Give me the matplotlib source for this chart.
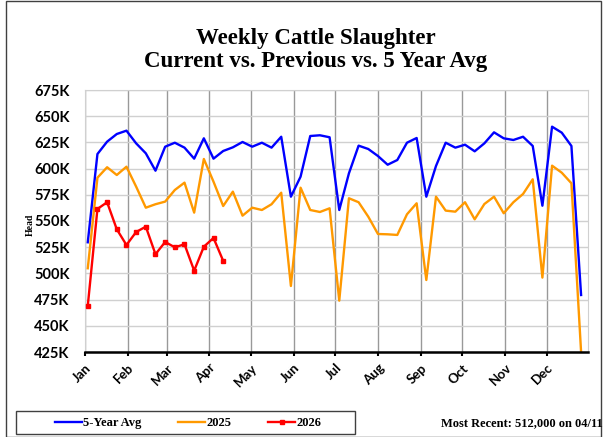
import numpy as np
import pandas as pd
import matplotlib
matplotlib.use("Agg")
import matplotlib.pyplot as plt
import matplotlib.dates as mdates
from matplotlib.lines import Line2D
from matplotlib.patches import Rectangle
from matplotlib.ticker import FuncFormatter

# weekly slaughter, thousand head
avg5 = [529.7, 613.9, 625.7, 633.0, 636.2, 624.1, 614.6, 598.0, 620.9, 624.7,
        620.0, 609.5, 628.9, 609.5, 616.8, 620.3, 625.4, 620.9, 624.7, 620.0,
        630.4, 573.2, 592.3, 631.1, 631.8, 629.9, 560.5, 595.5, 621.9, 618.7,
        612.0, 603.7, 608.2, 624.7, 629.2, 573.2, 602.5, 624.7, 620.0, 622.8,
        616.5, 624.1, 634.6, 628.9, 627.3, 630.4, 621.6, 564.6, 640.0, 634.3,
        621.6, 479.4]
y2025 = [504.9, 591.3, 601.3, 593.9, 601.8, 582.8, 562.7, 566.0, 568.5, 579.6,
         586.6, 558.0, 609.2, 587.5, 564.3, 578.0, 555.1, 562.7, 560.5, 566.0,
         577.0, 488.0, 581.8, 560.5, 558.6, 562.1, 474.0, 571.7, 567.9, 554.1,
         537.6, 537.3, 536.7, 556.4, 566.9, 493.7, 573.2, 559.9, 558.9, 567.9,
         551.6, 566.2, 573.2, 557.4, 567.9, 575.8, 589.8, 496.0, 602.8, 596.1,
         586.0, 425.0]
y2026 = [469.0, 561.5, 567.9, 542.1, 527.1, 539.5, 544.6, 518.3, 530.0, 524.9,
         527.8, 502.6, 525.5, 533.8, 512.0]

weeks = pd.date_range("2026-01-03", periods=52, freq="7D")

serif = ["Liberation Serif", "DejaVu Serif"]
sans = ["Lato", "DejaVu Sans"]

fig = plt.figure(figsize=(6.05, 4.37), dpi=100)
ax = fig.add_axes([85 / 605, 85 / 437, 503 / 605, 262 / 437])

ax.plot(weeks, np.array(avg5) * 1000, color="#0000FF", lw=1.7, zorder=3)
ax.plot(weeks, np.array(y2025) * 1000, color="#FF9900", lw=1.7, zorder=3)
ax.plot(weeks[:len(y2026)], np.array(y2026) * 1000, color="#FF0000", lw=1.7,
        marker="s", ms=3, zorder=4)

ax.set_xlim(pd.Timestamp("2026-01-01"), pd.Timestamp("2026-12-31"))
ax.set_ylim(425000, 675000)
ax.set_yticks(np.arange(425000, 675001, 25000))
ax.yaxis.set_major_formatter(FuncFormatter(lambda v, p: f"{int(v / 1000)}K"))
ax.xaxis.set_major_locator(mdates.MonthLocator())
ax.xaxis.set_major_formatter(mdates.DateFormatter("%b"))

ax.yaxis.grid(True, color="#d0d0d0", lw=1)
ax.xaxis.grid(True, color="#999999", lw=1)
ax.set_axisbelow(True)
for s in ["top", "right", "left"]:
    ax.spines[s].set_color("#d0d0d0")
ax.spines["bottom"].set_color("black")
ax.spines["bottom"].set_linewidth(1.8)
ax.spines["bottom"].set_zorder(5)

ax.tick_params(axis="y", length=0, pad=11)
ax.tick_params(axis="x", length=3, width=1.5, direction="out", pad=4)
for lab in ax.get_yticklabels():
    lab.set_family(sans)
    lab.set_fontweight("bold")
    lab.set_fontsize(10.5)
for lab in ax.get_xticklabels():
    lab.set_family(sans)
    lab.set_fontweight("bold")
    lab.set_fontsize(9.5)
    lab.set_rotation(45)
    lab.set_ha("right")
    lab.set_rotation_mode("anchor")

fig.text(30 / 605, 1 - 225 / 437, "Head", rotation=90, ha="center", va="center",
         family=serif, fontweight="bold", fontsize=7)

fig.text(316 / 605, 1 - 50 / 437,
         "Weekly Cattle Slaughter\nCurrent vs. Previous vs. 5 Year Avg",
         ha="center", va="center", family=serif, fontweight="bold",
         fontsize=16.5, linespacing=1.1)

# outer border and legend box
fig.patches.append(Rectangle((5.5 / 605, 0), 595 / 605, 436 / 437,
                             transform=fig.transFigure, fill=False,
                             edgecolor="#404040", lw=1))
fig.patches.append(Rectangle((16 / 605, 1 - 434 / 437), 339 / 605, 23 / 437,
                             transform=fig.transFigure, fill=False,
                             edgecolor="#404040", lw=1))

handles = [Line2D([], [], color="#0000FF", lw=1.7),
           Line2D([], [], color="#FF9900", lw=1.7),
           Line2D([], [], color="#FF0000", lw=1.7, marker="s", ms=3)]
fig.legend(handles, ["5-Year Avg", "2025", "2026"], ncol=3, frameon=False,
           loc="center", bbox_to_anchor=(188 / 605, 1 - 423 / 437),
           prop={"family": serif, "weight": "bold", "size": 9},
           handlelength=2.2, handletextpad=0.1, columnspacing=2.9)

fig.text(603 / 605, 1 - 423 / 437, "Most Recent: 512,000 on 04/11",
         ha="right", va="center", family=serif, fontweight="bold", fontsize=9)

fig.savefig("out.png", dpi=100)
